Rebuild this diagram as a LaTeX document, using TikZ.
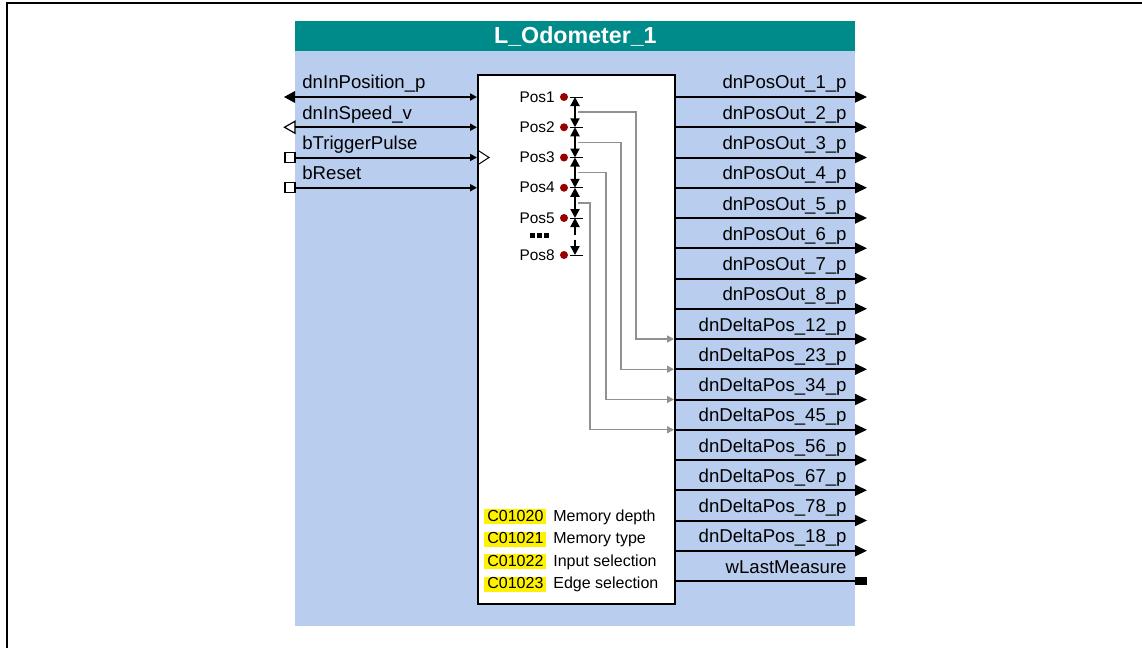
\documentclass[tikz,border=0pt]{standalone}
\usepackage{fontspec}
\setmainfont{Liberation Sans}
\usetikzlibrary{arrows.meta}
\definecolor{panelblue}{RGB}{185,205,238}
\definecolor{headteal}{RGB}{0,139,139}
\definecolor{posred}{RGB}{153,0,0}
\definecolor{greyline}{RGB}{145,145,145}
\begin{document}
\begin{tikzpicture}[x=0.5pt,y=-0.5pt,
  sig/.style={line width=1pt},
  iolab/.style={font=\fontsize{9.3}{10}\selectfont, inner sep=0pt},
  poslab/.style={font=\fontsize{7.7}{9}\selectfont, inner sep=0pt, anchor=base east},
  posdot/.style={circle, fill=posred, minimum size=4pt, inner sep=0pt},
  postick/.style={line width=0.5pt},
  meas/.style={line width=1pt, {Triangle[length=4.5pt,width=4.5pt]}-{Triangle[length=4.5pt,width=4.5pt]}},
  greyc/.style={draw=greyline, line width=0.7pt, -{Triangle[length=3.5pt,width=3.5pt]}},
  codebox/.style={fill=yellow, font=\fontsize{8}{9}\selectfont, inner xsep=1.5pt, inner ysep=0pt, text height=6pt, text depth=1.5pt, anchor=base west},
  codelab/.style={font=\fontsize{8}{9}\selectfont, inner sep=0pt, anchor=base west},
  outtip/.style={-{Triangle[length=6pt,width=5.5pt]}},
  intip/.style={-{Triangle[length=3.5pt,width=3.5pt]}},
  marker/.style={line width=0.6pt, fill=white},
]
\useasboundingbox (0,0) rectangle (1142,648);
% outer frame
\draw[line width=1pt] (7,648) -- (7,3) -- (1142,3);
% panel and header
\node[fill=panelblue, anchor=north west, minimum width=280pt, minimum height=288pt, inner sep=0pt] (panel) at (295,50) {};
\node[fill=headteal, anchor=north west, minimum width=280pt, minimum height=14.75pt, inner sep=0pt,
      text=white, font=\fontsize{11.6}{12}\selectfont\bfseries] (head) at (295,21) {L\_Odometer\_1};
% function block
\node[draw, line width=1pt, fill=white, anchor=north west, minimum width=98.5pt, minimum height=264.5pt, inner sep=0pt] (fb) at (477,74) {};

% inputs
\coordinate (is0) at (295,97);    \coordinate (ie0) at (477,97);
\coordinate (is1) at (295,127.25);\coordinate (ie1) at (477,127.25);
\coordinate (ie2) at (477,157.5);
\coordinate (ie3) at (477,187.75);
\fill (284,97) -- (295,91) -- (295,103) -- cycle;
\draw[marker] (284.5,127.25) -- (295,121.25) -- (295,133.25) -- cycle;
\node[draw, marker, minimum size=5pt, inner sep=0pt] (sq2) at (290,157.5) {};
\node[draw, marker, minimum size=5pt, inner sep=0pt] (sq3) at (290,187.75) {};
\draw[sig, intip] (is0) -- (ie0);
\draw[sig, intip] (is1) -- (ie1);
\draw[sig, intip] (sq2.east) -- (ie2);
\draw[sig, intip] (sq3.east) -- (ie3);
\node[iolab, anchor=base west] (il0) at (302,89) {dnInPosition\_p};
\node[iolab, anchor=base west] (il1) at (302,119.25) {dnInSpeed\_v};
\node[iolab, anchor=base west] (il2) at (302,149.5) {bTriggerPulse};
\node[iolab, anchor=base west] (il3) at (302,179.75) {bReset};
% clock symbol
\draw[line width=0.5pt] (477.5,150) -- (489,157.5) -- (477.5,165);

% outputs
\foreach \k/\t in {0/dnPosOut\_1\_p,1/dnPosOut\_2\_p,2/dnPosOut\_3\_p,3/dnPosOut\_4\_p,
                   4/dnPosOut\_5\_p,5/dnPosOut\_6\_p,6/dnPosOut\_7\_p,7/dnPosOut\_8\_p,
                   8/dnDeltaPos\_12\_p,9/dnDeltaPos\_23\_p,10/dnDeltaPos\_34\_p,11/dnDeltaPos\_45\_p,
                   12/dnDeltaPos\_56\_p,13/dnDeltaPos\_67\_p,14/dnDeltaPos\_78\_p,15/dnDeltaPos\_18\_p}{
  \pgfmathsetmacro\yy{97+30.25*\k}
  \coordinate (oa\k) at (674,\yy);
  \coordinate (ob\k) at (867,\yy);
  \draw[sig,outtip] (oa\k) -- (ob\k);
  \node[iolab, anchor=base east] (ol\k) at (847,\yy-8) {\t};
}
\coordinate (oa16) at (674,581);
\node[fill=black, minimum width=6pt, minimum height=4pt, inner sep=0pt, anchor=west] (wsq) at (855,581) {};
\draw[sig] (oa16) -- (wsq.west);
\node[iolab, anchor=base east] (ol16) at (847,573) {wLastMeasure};

% position markers
\foreach \j/\y in {1/97,2/127.25,3/157.5,4/187.75,5/218,8/255}{
  \node[poslab] (pl\j) at (555,\y+5) {Pos\j};
  \node[posdot] (pd\j) at (564,\y) {};
  \coordinate (pt\j) at (575,\y);
  \draw[postick] (570,\y) -- (583,\y);
}
\draw[meas] (pt1) -- (pt2);
\draw[meas] (pt2) -- (pt3);
\draw[meas] (pt3) -- (pt4);
\draw[meas] (pt4) -- (pt5);
\draw[meas, dashed, dash pattern=on 4pt off 2.5pt] (pt5) -- (pt8);
\fill (529.5,233) rectangle (534.5,238);
\fill (536.5,233) rectangle (541.5,238);
\fill (543.5,233) rectangle (548.5,238);

% grey delta connectors
\coordinate (g1) at (578,112);
\coordinate (g2) at (578,142.5);
\coordinate (g3) at (578,172.5);
\coordinate (g4) at (578,203);
\draw[greyc] (g1) -- (636,112) |- (oa8);
\draw[greyc] (g2) -- (621,142.5) |- (oa9);
\draw[greyc] (g3) -- (606,172.5) |- (oa10);
\draw[greyc] (g4) -- (590,203) |- (oa11);

% parameter codes
\foreach \r/\c/\l in {0/C01020/Memory depth,1/C01021/Memory type,2/C01022/Input selection,3/C01023/Edge selection}{
  \pgfmathsetmacro\bb{521+22.5*\r}
  \node[codebox] (cb\r) at (484,\bb) {\c};
  \node[codelab] (cl\r) at (553,\bb) {\l};
}
\end{tikzpicture}
\end{document}
